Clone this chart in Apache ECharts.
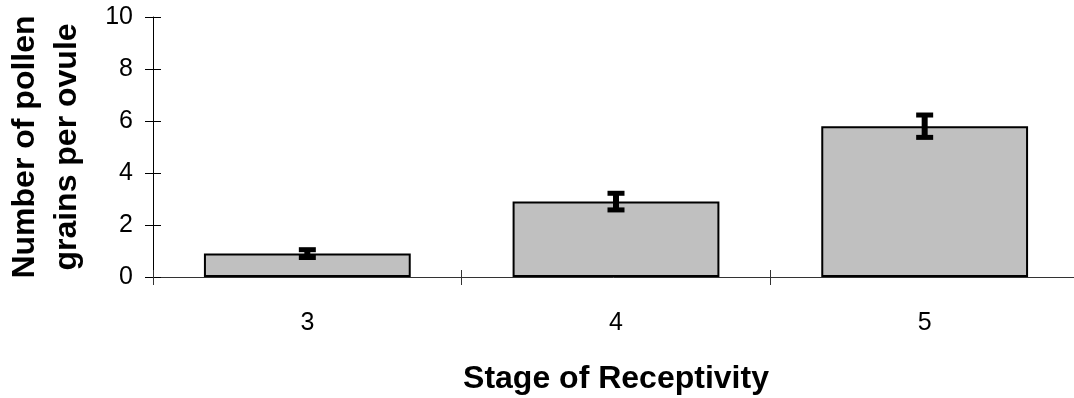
<!DOCTYPE html>
<html>
<head>
<meta charset="utf-8">
<script src="https://cdn.jsdelivr.net/npm/echarts@6/dist/echarts.min.js"></script>
<style>
html,body{margin:0;padding:0;background:#fff;}
#chart{width:1074px;height:398px;}
</style>
</head>
<body>
<div id="chart"></div>
<script>
var categories = ['3', '4', '5'];
var means = [0.9, 2.9, 5.8];
var errors = [0.15, 0.32, 0.43];
var yTicks = [0, 2, 4, 6, 8, 10];

var FONT = '"Liberation Sans", Arial, sans-serif';
var chart = echarts.init(document.getElementById('chart'));

var errData = categories.map(function (c, i) {
  return [i, means[i] - errors[i], means[i] + errors[i]];
});

var option = {
  animation: false,
  backgroundColor: '#fff',
  grid: { left: 153, right: -5, top: 17, bottom: 121, containLabel: false, outerBoundsMode: 'none' },
  xAxis: [{
    type: 'category',
    data: categories,
    position: 'bottom',
    axisLine: { show: true, lineStyle: { color: '#333', width: 1 } },
    axisTick: { show: true, length: 8, lineStyle: { color: '#333', width: 1 } },
    axisLabel: { color: '#000', fontSize: 25, fontFamily: FONT, margin: 34 },
    name: 'Stage of Receptivity',
    nameLocation: 'middle',
    nameGap: 86,
    nameTextStyle: { color: '#000', fontSize: 32, fontWeight: 'bold', fontFamily: FONT }
  }, {
    type: 'category',
    data: categories,
    position: 'bottom',
    offset: 0,
    axisLine: { show: false },
    axisTick: { show: true, inside: true, length: 7, lineStyle: { color: '#333', width: 1 } },
    axisLabel: { show: false }
  }],
  yAxis: [{
    type: 'value',
    min: yTicks[0],
    max: yTicks[yTicks.length - 1],
    interval: 2,
    position: 'left',
    splitLine: { show: false },
    axisLine: { show: true, lineStyle: { color: '#000', width: 1 } },
    axisTick: { show: true, length: 8, lineStyle: { color: '#000', width: 1 } },
    axisLabel: { color: '#000', fontSize: 25, fontFamily: FONT, margin: 20 },
    name: 'Number of pollen\ngrains per ovule',
    nameLocation: 'middle',
    nameGap: 65,
    nameTextStyle: { color: '#000', fontSize: 32, fontWeight: 'bold', fontFamily: FONT, lineHeight: 42, align: 'center' }
  }, {
    type: 'value',
    min: yTicks[0],
    max: yTicks[yTicks.length - 1],
    interval: 2,
    position: 'left',
    offset: 0,
    splitLine: { show: false },
    axisLine: { show: false },
    axisTick: { show: true, inside: true, length: 8, lineStyle: { color: '#000', width: 1 } },
    axisLabel: { show: false }
  }],
  series: [{
    type: 'bar',
    data: means,
    barWidth: '67%',
    itemStyle: { color: '#C0C0C0', borderColor: '#000', borderWidth: 2 },
    z: 2
  }, {
    type: 'custom',
    data: errData,
    z: 5,
    renderItem: function (params, api) {
      var x = api.value(0);
      var lo = api.coord([x, api.value(1)]);
      var hi = api.coord([x, api.value(2)]);
      var cx = lo[0];
      var hw = 8.5;
      var style = { stroke: '#000', lineWidth: 5, lineCap: 'butt' };
      return {
        type: 'group',
        children: [
          { type: 'line', shape: { x1: cx, y1: lo[1], x2: cx, y2: hi[1] }, style: { stroke: '#000', lineWidth: 6 } },
          { type: 'line', shape: { x1: cx - hw, y1: lo[1], x2: cx + hw, y2: lo[1] }, style: style },
          { type: 'line', shape: { x1: cx - hw, y1: hi[1], x2: cx + hw, y2: hi[1] }, style: style }
        ]
      };
    }
  }]
};
chart.setOption(option);
</script>
</body>
</html>
